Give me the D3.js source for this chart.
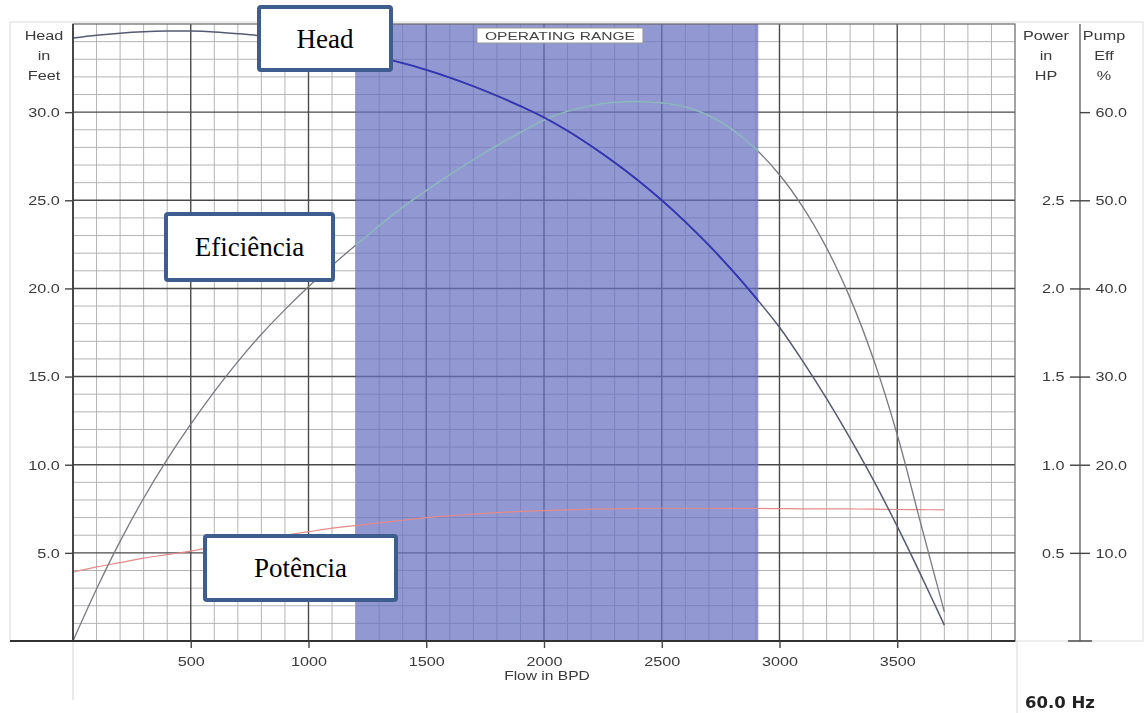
<!DOCTYPE html>
<html>
<head>
<meta charset="utf-8">
<script src="https://cdn.jsdelivr.net/npm/d3@7"></script>
<style>
  html, body { margin: 0; padding: 0; background: #fff; }
  svg { display: block; }
</style>
</head>
<body>
<svg id="chart" width="1148" height="713"></svg>
<script>
// Pump performance curve, 60 Hz
const flowBpd = [0,100,200,300,400,500,600,700,800,900,1000,1100,1200,1300,1400,1500,1600,1700,1800,1900,
                 2000,2100,2200,2300,2400,2500,2600,2700,2800,2900,3000,3100,3200,3300,3400,3500,3600,3700];
const headFt  = [34.2,34.36,34.48,34.56,34.6,34.6,34.55,34.45,34.32,34.12,33.9,33.68,33.42,33.12,32.78,32.4,31.96,31.47,30.93,30.34,
                 29.7,28.94,28.08,27.14,26.12,25.0,23.78,22.45,21.01,19.46,17.8,15.85,13.75,11.5,9.1,6.5,3.75,0.9];
const effPct  = [0,5.9,11.3,16.2,20.6,24.6,28.3,31.7,34.8,37.6,40.2,42.6,44.9,47.1,49.2,51.1,52.9,54.6,56.2,57.7,
                 59.1,60.1,60.75,61.1,61.2,61.05,60.6,59.6,58.0,55.8,52.9,49.2,44.6,38.9,31.9,23.4,13.3,3.3];
const powerHp = [0.39,0.42,0.445,0.47,0.49,0.51,0.535,0.56,0.58,0.60,0.62,0.64,0.655,0.67,0.685,0.70,0.71,0.72,0.728,0.735,
                 0.74,0.744,0.748,0.75,0.752,0.753,0.753,0.753,0.752,0.752,0.751,0.75,0.75,0.749,0.748,0.746,0.745,0.744];

const flowTicks  = [500,1000,1500,2000,2500,3000,3500];
const headTicks  = [5,10,15,20,25,30];
const powerTicks = [0.5,1.0,1.5,2.0,2.5];
const effTicks   = [10,20,30,40,50,60];
const operatingRange = [1200, 2910];

const svg = d3.select("#chart");
const L = 73, R = 1015, T = 24, B = 641;

const x = d3.scaleLinear().domain([0, 4000]).range([L, R]);
const yHead = d3.scaleLinear().domain([0, 35]).range([B, T]);
const yPower = d3.scaleLinear().domain([0, 3.5]).range([B, T]);
const yEff = d3.scaleLinear().domain([0, 70]).range([B, T]);

const FONT = "Liberation Sans, Arial, sans-serif";
const SX = 1.2;

const defs = svg.append("defs");
defs.append("filter").attr("id", "soft").attr("x", "-2%").attr("y", "-2%").attr("width", "104%").attr("height", "104%")
  .append("feGaussianBlur").attr("stdDeviation", 0.4);

const chart = svg.append("g").attr("filter", "url(#soft)");

// outer light frame
chart.append("rect").attr("x", 10).attr("y", 22).attr("width", 1133).attr("height", 619)
  .attr("fill", "none").attr("stroke", "#dcdcdc").attr("stroke-width", 1);
chart.append("line").attr("x1", L).attr("x2", L).attr("y1", B).attr("y2", 700).attr("stroke", "#d4d4d4");
chart.append("line").attr("x1", 1017).attr("x2", 1017).attr("y1", B).attr("y2", 713).attr("stroke", "#d8d8d8");

const plot = chart.append("g");

// minor grid
const minorX = d3.range(100, 4000, 100).filter(v => v % 500 !== 0);
const minorY = d3.range(1, 35, 1).filter(v => v % 5 !== 0);
plot.selectAll(".mx").data(minorX).join("line")
  .attr("x1", d => x(d)).attr("x2", d => x(d)).attr("y1", T).attr("y2", B)
  .attr("stroke", "#b4b4b4").attr("stroke-width", 1);
plot.selectAll(".my").data(minorY).join("line")
  .attr("x1", L).attr("x2", R).attr("y1", d => yHead(d)).attr("y2", d => yHead(d))
  .attr("stroke", "#b4b4b4").attr("stroke-width", 1);

// major grid
plot.selectAll(".MX").data(flowTicks).join("line")
  .attr("x1", d => x(d)).attr("x2", d => x(d)).attr("y1", T).attr("y2", B)
  .attr("stroke", "#4a4a4a").attr("stroke-width", 1.4);
plot.selectAll(".MY").data(headTicks).join("line")
  .attr("x1", L).attr("x2", R).attr("y1", d => yHead(d)).attr("y2", d => yHead(d))
  .attr("stroke", "#4a4a4a").attr("stroke-width", 1.4);

// operating range band
plot.append("rect")
  .attr("x", x(operatingRange[0])).attr("y", T)
  .attr("width", x(operatingRange[1]) - x(operatingRange[0])).attr("height", B - T)
  .attr("fill", "#6670c0").attr("fill-opacity", 0.72);

// curves
const clipId = "rangeClip";
defs.append("clipPath").attr("id", clipId).append("rect")
  .attr("x", x(operatingRange[0])).attr("y", T)
  .attr("width", x(operatingRange[1]) - x(operatingRange[0])).attr("height", B - T);

const lineHead = d3.line().x((d, i) => x(flowBpd[i])).y(d => yHead(d)).curve(d3.curveCatmullRom);
const lineEff = d3.line().x((d, i) => x(flowBpd[i])).y(d => yEff(d)).curve(d3.curveCatmullRom);
const linePow = d3.line().x((d, i) => x(flowBpd[i])).y(d => yPower(d)).curve(d3.curveCatmullRom);

plot.append("path").attr("d", linePow(powerHp)).attr("fill", "none").attr("stroke", "#e58a8a").attr("stroke-width", 1.2);
plot.append("path").attr("d", lineEff(effPct)).attr("fill", "none").attr("stroke", "#777a80").attr("stroke-width", 1.3);
plot.append("path").attr("d", lineHead(headFt)).attr("fill", "none").attr("stroke", "#565a72").attr("stroke-width", 1.5);
plot.append("path").attr("d", lineEff(effPct)).attr("fill", "none").attr("stroke", "#8fb6c4").attr("stroke-width", 1.8)
  .attr("clip-path", `url(#${clipId})`);
plot.append("path").attr("d", lineHead(headFt)).attr("fill", "none").attr("stroke", "#3434b8").attr("stroke-width", 1.8)
  .attr("clip-path", `url(#${clipId})`);

// plot frame
plot.append("rect").attr("x", L).attr("y", T).attr("width", R - L).attr("height", B - T)
  .attr("fill", "none").attr("stroke", "#666").attr("stroke-width", 1.2);
plot.append("line").attr("x1", 10).attr("x2", R).attr("y1", B).attr("y2", B).attr("stroke", "#333").attr("stroke-width", 2);
plot.append("line").attr("x1", L).attr("x2", L).attr("y1", T).attr("y2", B).attr("stroke", "#333").attr("stroke-width", 1.6);

function styleAxis(g) {
  g.select(".domain").remove();
  g.selectAll("text").attr("font-family", FONT).attr("font-size", 13.5).attr("fill", "#3a3a3a");
  g.selectAll("line").attr("stroke", "#444").attr("stroke-width", 1.4);
}

// bottom axis
const xAxis = chart.append("g").attr("transform", `translate(0,${B})`)
  .call(d3.axisBottom(x).tickValues(flowTicks).tickSize(7).tickPadding(8).tickFormat(d3.format("d")))
  .call(styleAxis);
xAxis.selectAll("text").attr("transform", `scale(${SX},1)`).attr("x", 0);

chart.append("text").attr("transform", `translate(547,680) scale(${SX},1)`)
  .attr("text-anchor", "middle").attr("font-family", FONT).attr("font-size", 13)
  .attr("fill", "#3a3a3a").text("Flow in BPD");

// left axis
const yAxis = chart.append("g").attr("transform", `translate(${L},0)`)
  .call(d3.axisLeft(yHead).tickValues(headTicks).tickSize(8).tickPadding(3).tickFormat(d3.format(".1f")))
  .call(styleAxis);
yAxis.selectAll("text").attr("transform", `scale(${SX},1)`);

// right axes: power (left of the line) and pump efficiency (right of the line)
const RA = 1080;
chart.append("line").attr("x1", RA).attr("x2", RA).attr("y1", T).attr("y2", B).attr("stroke", "#666").attr("stroke-width", 1.4);
chart.append("line").attr("x1", RA - 12).attr("x2", RA + 12).attr("y1", B).attr("y2", B).attr("stroke", "#555").attr("stroke-width", 1.6);
const pAxis = chart.append("g").attr("transform", `translate(${RA},0)`)
  .call(d3.axisLeft(yPower).tickValues(powerTicks).tickSize(10).tickPadding(3).tickFormat(d3.format(".1f")))
  .call(styleAxis);
pAxis.selectAll("text").attr("transform", `scale(${SX},1)`);
const eAxis = chart.append("g").attr("transform", `translate(${RA},0)`)
  .call(d3.axisRight(yEff).tickValues(effTicks).tickSize(10).tickPadding(3).tickFormat(d3.format(".1f")))
  .call(styleAxis);
eAxis.selectAll("text").attr("transform", `scale(${SX},1)`);

// axis titles
function stacked(cx, lines) {
  lines.forEach((t, i) => {
    chart.append("text").attr("transform", `translate(${cx},${40 + i * 20}) scale(${SX},1)`)
      .attr("text-anchor", "middle").attr("font-family", FONT).attr("font-size", 13.5)
      .attr("fill", "#3a3a3a").text(t);
  });
}
stacked(44, ["Head", "in", "Feet"]);
stacked(1046, ["Power", "in", "HP"]);
stacked(1104, ["Pump", "Eff", "%"]);

// operating range tag
const rx = (x(operatingRange[0]) + x(operatingRange[1])) / 2 + 3;
chart.append("rect").attr("x", rx - 83).attr("y", 28).attr("width", 166).attr("height", 15)
  .attr("fill", "#fff").attr("stroke", "#999").attr("stroke-width", 1);
chart.append("text").attr("x", rx).attr("y", 40).attr("text-anchor", "middle")
  .attr("font-family", FONT).attr("font-size", 11.5).attr("fill", "#444")
  .attr("textLength", 150).attr("lengthAdjust", "spacingAndGlyphs").text("OPERATING RANGE");

// frequency
chart.append("text").attr("x", 1025).attr("y", 708).attr("font-family", "DejaVu Sans, sans-serif")
  .attr("font-weight", "bold").attr("font-size", 16.5).attr("fill", "#222").text("60.0 Hz");

// callout boxes
const callouts = [
  {label: "Head", x0: 259, y0: 7, x1: 391, y1: 70},
  {label: "Eficiência", x0: 166, y0: 214, x1: 333, y1: 280},
  {label: "Potência", x0: 205, y0: 536, x1: 396, y1: 600}
];
const cg = svg.append("g");
callouts.forEach(c => {
  cg.append("rect").attr("x", c.x0).attr("y", c.y0).attr("width", c.x1 - c.x0).attr("height", c.y1 - c.y0)
    .attr("rx", 2).attr("fill", "#fff").attr("stroke", "#3c5d8e").attr("stroke-width", 4);
  cg.append("text").attr("x", (c.x0 + c.x1) / 2).attr("y", (c.y0 + c.y1) / 2 + 9)
    .attr("text-anchor", "middle").attr("font-family", "Liberation Serif, 'Times New Roman', serif")
    .attr("font-size", 27).attr("fill", "#000").text(c.label);
});
</script>
</body>
</html>
